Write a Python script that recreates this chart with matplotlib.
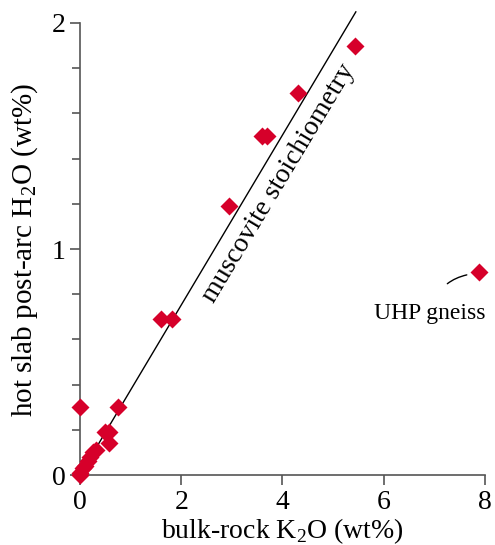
import numpy as np
import matplotlib.pyplot as plt
from matplotlib.ticker import MultipleLocator

plt.rcParams['font.family'] = ['Liberation Serif', 'DejaVu Serif']
plt.rcParams['mathtext.fontset'] = 'custom'
plt.rcParams['mathtext.rm'] = 'Liberation Serif'

# bulk-rock K2O vs hot slab post-arc H2O (wt%)
k2o = [5.43, 4.31, 3.60, 3.70, 2.94, 1.60, 1.82, 7.88,
       0.00, 0.75, 0.50, 0.58, 0.58,
       0.00, 0.00, 0.05, 0.10, 0.15, 0.20, 0.25, 0.32]
h2o = [1.90, 1.69, 1.50, 1.50, 1.19, 0.69, 0.69, 0.90,
       0.30, 0.30, 0.19, 0.19, 0.14,
       0.00, 0.01, 0.03, 0.04, 0.06, 0.08, 0.10, 0.11]

musc_slope = 0.376   # H2O/K2O for muscovite
musc_x = [0, 5.45]

red = '#d6002a'
gray = '#555555'

fig = plt.figure(figsize=(4.95, 5.45), dpi=100)
ax = fig.add_axes([0.1616, 0.1284, 0.818, 0.8294])

ax.plot(musc_x, [musc_slope * x for x in musc_x], color='black', lw=1.0, clip_on=False)
ax.plot(k2o, h2o, 'D', color=red, ms=9, mec='none', clip_on=False, zorder=3)

ax.text(3.92, 1.29, 'muscovite stoichiometry', rotation=59, fontsize=20,
        ha='center', va='center', rotation_mode='anchor')

ax.annotate('UHP gneiss', xy=(7.75, 0.89), xytext=(6.92, 0.715),
            fontsize=17, ha='center', va='center',
            arrowprops=dict(arrowstyle='-', color='black', lw=1.0,
                            shrinkA=15, shrinkB=4,
                            connectionstyle='arc3,rad=-0.35'))

ax.set_xlim(0, 8)
ax.set_ylim(0, 2)
ax.xaxis.set_major_locator(MultipleLocator(2))
ax.yaxis.set_major_locator(MultipleLocator(1))
ax.yaxis.set_minor_locator(MultipleLocator(0.2))

for s in ['top', 'right']:
    ax.spines[s].set_visible(False)
for s in ['left', 'bottom']:
    ax.spines[s].set_color(gray)
    ax.spines[s].set_linewidth(1.2)

ax.tick_params(which='both', direction='out', color=gray, width=1.2, labelsize=20)
ax.tick_params(which='major', length=7)
ax.tick_params(which='minor', length=6)

ax.set_xlabel('bulk-rock K$_2$O (wt%)', fontsize=20, labelpad=1)
fig.text(25 / 495, 1 - 250 / 545, 'hot slab post-arc H$_2$O (wt%)', fontsize=21,
         rotation=90, ha='center', va='center')

fig.savefig('out.png', dpi=100)
